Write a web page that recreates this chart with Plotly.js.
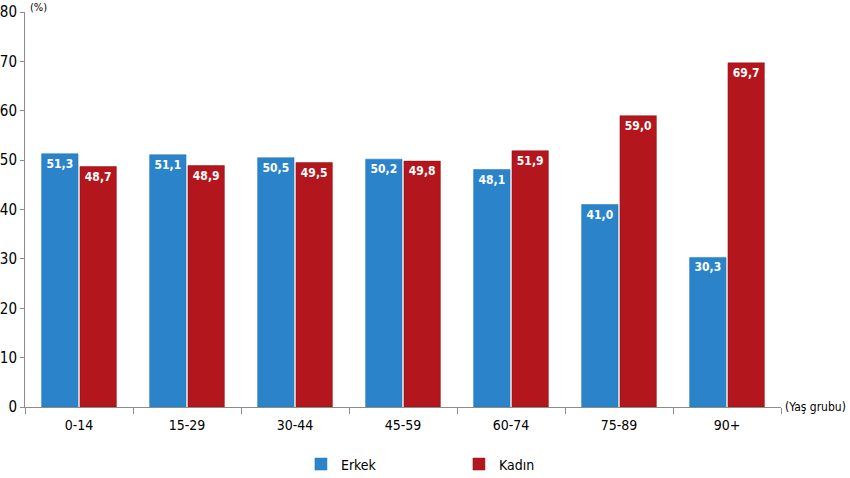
<!DOCTYPE html>
<html>
<head>
<meta charset="utf-8">
<script src="https://cdn.plot.ly/plotly-3.0.1.min.js"></script>
<style>html,body{margin:0;padding:0;background:#fff;}#chart{width:850px;height:478px;}</style>
</head>
<body>
<div id="chart"></div>
<script>
const categories = ["0-14", "15-29", "30-44", "45-59", "60-74", "75-89", "90+"];
const erkek = [51.3, 51.1, 50.5, 50.2, 48.1, 41.0, 30.3];
const kadin = [48.7, 48.9, 49.5, 49.8, 51.9, 59.0, 69.7];
const seriesNames = ["Erkek", "Kadın"];
const yTicks = [0, 10, 20, 30, 40, 50, 60, 70, 80];

const FONT = "'DejaVu Sans Condensed', 'Liberation Sans Narrow', 'Arial Narrow', 'Liberation Sans', Arial, sans-serif";

const labelFont = {family: FONT, size: 12, color: "#ffffff", weight: "bold"};

const traces = [
  {
    type: "bar", name: seriesNames[0], x: categories, y: erkek,
    marker: {color: "#2b84c9", line: {color: "#2274b3", width: 0.5}},
    texttemplate: "<b>%{y:.1f}</b>", textposition: "inside", insidetextanchor: "end",
    textfont: labelFont, textangle: 0, hoverinfo: "none"
  },
  {
    type: "bar", name: seriesNames[1], x: categories, y: kadin,
    marker: {color: "#b3161c", line: {color: "#8e1015", width: 0.5}},
    texttemplate: "<b>%{y:.1f}</b>", textposition: "inside", insidetextanchor: "end",
    textfont: labelFont, textangle: 0, hoverinfo: "none"
  }
];

const layout = {
  width: 850, height: 478,
  margin: {l: 25, r: 69, t: 12, b: 71, autoexpand: false},
  paper_bgcolor: "#ffffff", plot_bgcolor: "#ffffff",
  separators: ",.",
  barmode: "group", bargap: 0.29, bargroupgap: 0.05,
  font: {family: FONT, size: 14, color: "#000"},
  showlegend: true,
  legend: {orientation: "h", x: 0.574, xanchor: "center", y: -0.105, yanchor: "top",
           font: {family: FONT, size: 14, color: "#000"}, entrywidth: 113,
           itemwidth: 30, traceorder: "normal"},
  xaxis: {
    type: "category", showline: true, linecolor: "#8c8c8c", linewidth: 1,
    ticks: "outside", tickson: "boundaries", ticklen: 6, tickcolor: "#8c8c8c",
    showgrid: false, zeroline: false, automargin: false, ticklabelstandoff: 5,
    tickfont: {family: FONT, size: 14, color: "#000"}
  },
  yaxis: {
    range: [0, 80], tickvals: yTicks, ticktext: yTicks.map(String),
    showline: true, linecolor: "#8c8c8c", linewidth: 1,
    ticks: "outside", ticklen: 4, tickcolor: "#8c8c8c",
    showgrid: false, zeroline: false, automargin: false,
    tickfont: {family: FONT, size: 15, color: "#000"}
  },
  annotations: [
    {text: "(Yaş grubu)", xref: "paper", yref: "paper", x: 1.0886, y: 0, xanchor: "right", yanchor: "middle",
     showarrow: false, font: {family: FONT, size: 12, color: "#000"}},
    {text: "(%)", xref: "paper", yref: "paper", x: 0.004, y: 1.0, xanchor: "left", yanchor: "bottom", yshift: -4,
     showarrow: false, font: {family: FONT, size: 11, color: "#000"}}
  ]
};

Plotly.newPlot("chart", traces, layout, {displayModeBar: false, staticPlot: true});
</script>
</body>
</html>
